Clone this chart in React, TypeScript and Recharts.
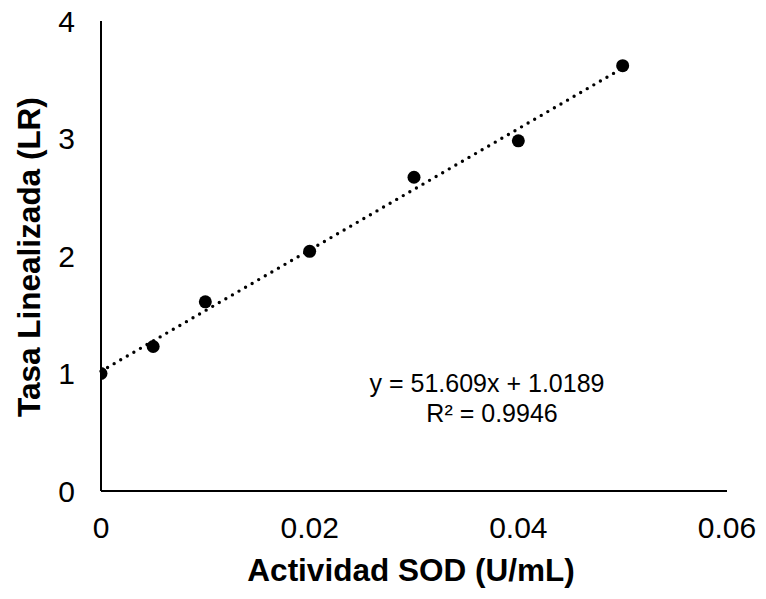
import {
  ComposedChart, Scatter, XAxis, YAxis, ReferenceLine, ReferenceDot, Label,
} from 'recharts';

// SOD activity (U/mL) vs linearised rate
const sodActivity = [0, 0.005, 0.01, 0.02, 0.03, 0.04, 0.05];
const linearRate  = [1.0, 1.23, 1.61, 2.04, 2.67, 2.98, 3.62];

const xTicks = [0, 0.02, 0.04, 0.06];
const yTicks = [0, 1, 2, 3, 4];

// least-squares fit shown on the chart
const slope     = 51.609;
const intercept = 1.0189;
const rSquared  = 0.9946;

const points = sodActivity.map((x, i) => ({ x, y: linearRate[i] }));
const fitStart = { x: sodActivity[0], y: intercept + slope * sodActivity[0] };
const fitEnd   = { x: sodActivity[sodActivity.length - 1], y: intercept + slope * sodActivity[sodActivity.length - 1] };

const FONT = '"Liberation Sans", Arial, sans-serif';

const tickStyle = { fill: '#000', fontSize: 30, fontFamily: FONT };

function XTitle({ viewBox }: any) {
  const cx = viewBox.x + viewBox.width / 2 - 3;
  return (
    <text x={cx} y={581} textAnchor="middle" fontFamily={FONT} fontSize={31.5} fontWeight="bold" fill="#000">
      Actividad SOD (U/mL)
    </text>
  );
}

function YTitle({ viewBox }: any) {
  const cy = viewBox.y + viewBox.height / 2 + 1;
  return (
    <text
      x={40} y={cy} textAnchor="middle" transform={`rotate(-90 40 ${cy})`}
      fontFamily={FONT} fontSize={31.5} fontWeight="bold" fill="#000"
    >
      Tasa Linealizada (LR)
    </text>
  );
}

function FitLabel({ viewBox }: any) {
  const cx = viewBox.cx ?? viewBox.x;
  const cy = viewBox.cy ?? viewBox.y;
  return (
    <g fontFamily={FONT} fontSize={25} fill="#000" textAnchor="middle">
      <text x={cx} y={cy}>{`y = ${slope}x + ${intercept}`}</text>
      <text x={cx + 5} y={cy + 30}>{`R² = ${rSquared}`}</text>
    </g>
  );
}

export default function App() {
  return (
    <div style={{ position: 'absolute', left: 0, top: 0, background: '#fff' }}>
      <ComposedChart width={766} height={599} margin={{ top: 21, right: 39, bottom: 48, left: 0 }}>
        <XAxis
          type="number" dataKey="x" domain={[0, 0.06]} ticks={xTicks}
          tick={tickStyle} tickLine={false} tickMargin={20} height={60}
          axisLine={{ stroke: '#000', strokeWidth: 2 }}
          allowDataOverflow
        >
          <Label content={<XTitle />} />
        </XAxis>
        <YAxis
          type="number" dataKey="y" domain={[0, 4]} ticks={yTicks}
          tick={tickStyle} tickLine={false} tickMargin={20} width={101}
          axisLine={{ stroke: '#000', strokeWidth: 2 }}
        >
          <Label content={<YTitle />} />
        </YAxis>

        {/* linear trendline, dotted */}
        <ReferenceLine
          segment={[fitStart, fitEnd]}
          stroke="#000" strokeWidth={3.4} strokeLinecap="round" strokeDasharray="0 7.6"
        />

        <Scatter
          data={points} dataKey="y" fill="#000" isAnimationActive={false}
          shape={(p: any) => <circle cx={p.cx} cy={p.cy} r={6.5} fill="#000" />}
        />

        <ReferenceDot x={0.037} y={0.84} r={0} stroke="none" fill="none" ifOverflow="visible">
          <Label content={<FitLabel />} />
        </ReferenceDot>
      </ComposedChart>
    </div>
  );
}
